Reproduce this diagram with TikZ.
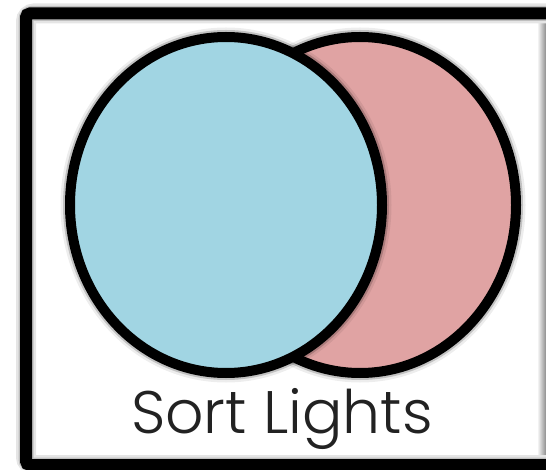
\documentclass[tikz,border=0pt]{standalone}
\usepackage{fontspec}
\IfFontExistsTF{Poppins Light}{\setmainfont{Poppins Light}}{\setmainfont{Poppins}}
\definecolor{lightblue}{RGB}{161,213,227}
\definecolor{lightred}{RGB}{224,163,163}
\definecolor{txt}{RGB}{34,34,34}
\begin{document}
\begin{tikzpicture}[x=1pt,y=-1pt,
  setring/.style={draw=black,line width=10pt},
  haloouter/.style={draw=black,draw opacity=0.07,line width=19pt},
  haloinner/.style={draw=black,draw opacity=0.18,line width=14pt},
  framebar/.style={draw=black,line width=12pt,rounded corners=4pt}]
\useasboundingbox (0,0) rectangle (546,470);
\begin{scope}
\clip (0,0) rectangle (546,470);
% frame
\shade[left color=white,right color=black!45] (537,19) rectangle (546,459);
\draw[draw=black!10,line width=20pt,rounded corners=8pt] (26,13.5) -- (560,13.5) -- (560,465) -- (26,465) -- cycle;
\draw[draw=black!25,line width=15pt,rounded corners=6pt] (26,13.5) -- (560,13.5) -- (560,465) -- (26,465) -- cycle;
\draw[framebar] (26,13.5) -- (560,13.5) -- (560,465) -- (26,465) -- cycle;
% red set
\draw[haloouter] (360,205) ellipse [x radius=156,y radius=168];
\draw[haloinner] (360,205) ellipse [x radius=156,y radius=168];
\path[fill=lightred,setring] (360,205) ellipse [x radius=156,y radius=168];
% blue set
\draw[haloouter] (226,205) ellipse [x radius=156,y radius=168];
\draw[haloinner] (226,205) ellipse [x radius=156,y radius=168];
\path[fill=lightblue,setring] (226,205) ellipse [x radius=156,y radius=168];
\end{scope}
\node[text=txt,font=\fontsize{60}{60}\selectfont,anchor=base,inner sep=0pt] (label) at (282,433) {Sort Lights};
\end{tikzpicture}
\end{document}
